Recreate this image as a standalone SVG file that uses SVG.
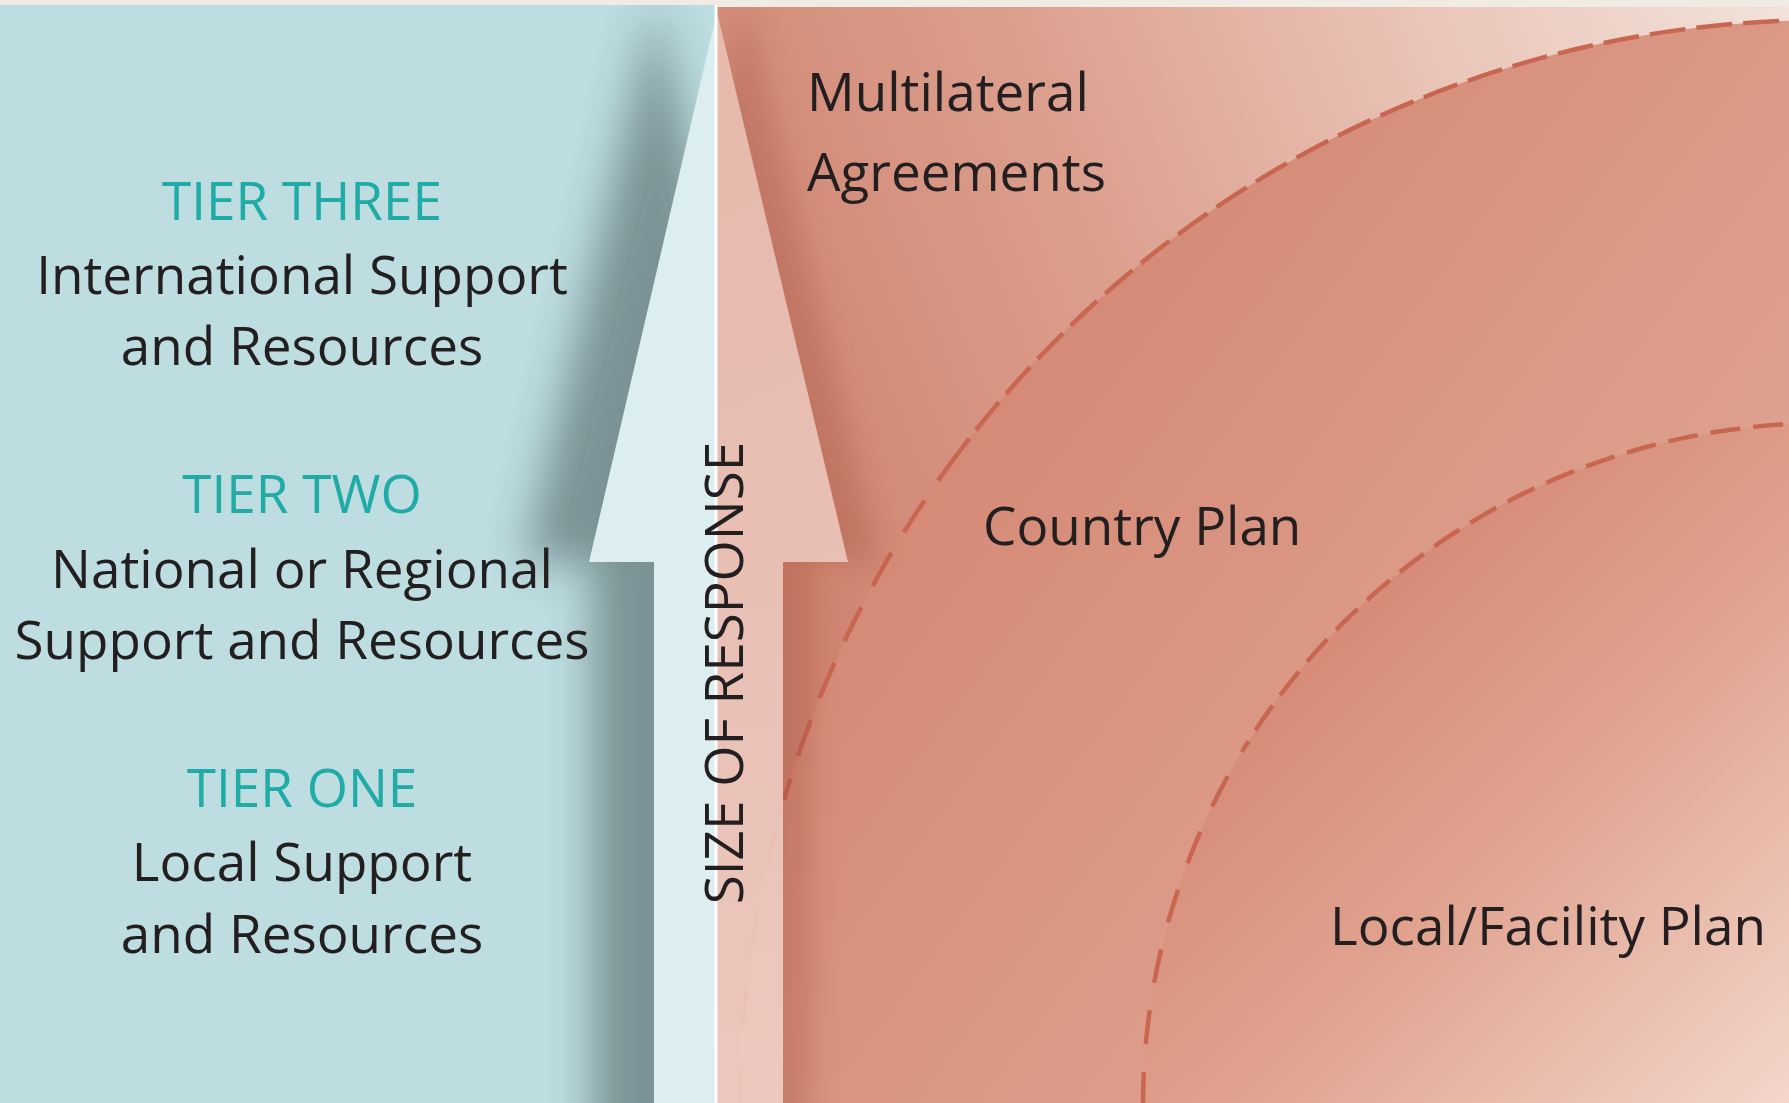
<svg xmlns="http://www.w3.org/2000/svg" width="1789" height="1103" viewBox="0 0 1789 1103">
<defs>
<style>
.lbl{font-family:"Open Sans","Liberation Sans",sans-serif;font-size:53px;font-weight:500;fill:#231f20;}
.tier{font-family:"Open Sans","Liberation Sans",sans-serif;font-size:53px;font-weight:500;fill:#20aba6;}
.mid{text-anchor:middle;}
.arc{fill:none;stroke:#c8664f;stroke-width:4.5;}
.d1{stroke-dasharray:36 11;}
.d2{stroke-dasharray:38 24;}
.d3{stroke-dasharray:38 42;}
.i1{stroke-dasharray:30 13;}
.i2{stroke-dasharray:34 28;}
</style>
<clipPath id="clipL"><rect x="0" y="5" width="716" height="1098"/></clipPath>
<clipPath id="clipR"><rect x="716" y="7" width="1073" height="1096"/></clipPath>
<filter id="blurL" x="-60%" y="-20%" width="220%" height="140%"><feGaussianBlur stdDeviation="22"/></filter>
<filter id="blurR" x="-60%" y="-20%" width="220%" height="140%"><feGaussianBlur stdDeviation="14"/></filter>
<linearGradient id="gBg" gradientUnits="userSpaceOnUse" x1="740" y1="400" x2="1789" y2="0">
<stop offset="0" stop-color="#cf8470"/>
<stop offset="0.35" stop-color="#dc9f8e"/>
<stop offset="0.7" stop-color="#eac6b9"/>
<stop offset="1" stop-color="#f2e2da"/>
</linearGradient>
<linearGradient id="gOuter" gradientUnits="userSpaceOnUse" x1="850" y1="300" x2="1789" y2="1000">
<stop offset="0" stop-color="#d2846f"/>
<stop offset="1" stop-color="#e3ad9c"/>
</linearGradient>
<linearGradient id="gInner" gradientUnits="userSpaceOnUse" x1="1250" y1="560" x2="1789" y2="1103">
<stop offset="0" stop-color="#d2826d"/>
<stop offset="0.5" stop-color="#e0a390"/>
<stop offset="1" stop-color="#f3d6ca"/>
</linearGradient>
<linearGradient id="gArrowR" gradientUnits="userSpaceOnUse" x1="0" y1="0" x2="0" y2="1103">
<stop offset="0" stop-color="#ecc2b7"/>
<stop offset="1" stop-color="#f3d5cc"/>
</linearGradient>
<path id="arrowShape" d="M717 12 L848 562 L783 562 L783 1103 L654 1103 L654 562 L589 562 Z"/>
<path id="shadowShape" d="M717 0 L851 562 L783 562 L783 1260 L654 1260 L654 562 L586 562 Z"/>
</defs>

<rect x="0" y="0" width="1789" height="1103" fill="#f0ece4"/>

<g id="left-panel">
<rect x="0" y="5" width="716" height="1098" fill="#bddde0"/>
<g clip-path="url(#clipL)">
<use href="#shadowShape" transform="translate(-62,0)" fill="#2f3d41" opacity="0.46" filter="url(#blurL)"/>
<use href="#arrowShape" fill="#ddeef1"/>
</g>
</g>

<g id="right-panel">
<g clip-path="url(#clipR)">
<rect x="716" y="7" width="1073" height="1096" fill="url(#gBg)"/>
<circle id="country-plan-area" cx="1826" cy="1106" r="1086" fill="url(#gOuter)"/>
<circle id="local-plan-area" cx="1826" cy="1106" r="683" fill="url(#gInner)"/>
<path class="arc d1" d="M1826 20 A1086 1086 0 0 0 960.5 450"/>
<path class="arc d2" d="M960.5 450 A1086 1086 0 0 0 784 800"/>
<path class="arc d3" d="M740 1106 A1086 1086 0 0 1 784 800"/>
<path class="arc i1" d="M1826 423 A683 683 0 0 0 1243 750"/>
<path class="arc i2" d="M1143 1106 A683 683 0 0 1 1243 750"/>
<use href="#shadowShape" transform="translate(28,0)" fill="#8a3422" opacity="0.22" filter="url(#blurR)"/>
<use href="#arrowShape" fill="url(#gArrowR)" opacity="0.86"/>
</g>
</g>

<g id="connectors">
<rect x="714.5" y="5" width="3" height="1098" fill="#ffffff"/>
</g>

<g id="size-of-response">
<text class="lbl mid" transform="translate(743,673) rotate(-90)">SIZE OF RESPONSE</text>
</g>

<g id="tier-three">
<text class="tier mid" x="302" y="220">TIER THREE</text>
<text class="lbl mid" x="302" y="294">International Support</text>
<text class="lbl mid" x="302" y="365">and Resources</text>
</g>
<g id="tier-two">
<text class="tier mid" x="302" y="513">TIER TWO</text>
<text class="lbl mid" x="302" y="588">National or Regional</text>
<text class="lbl mid" x="302" y="659">Support and Resources</text>
</g>
<g id="tier-one">
<text class="tier mid" x="302" y="807">TIER ONE</text>
<text class="lbl mid" x="302" y="881">Local Support</text>
<text class="lbl mid" x="302" y="953">and Resources</text>
</g>

<g id="multilateral-agreements">
<text class="lbl" x="807" y="111">Multilateral</text>
<text class="lbl" x="807" y="191">Agreements</text>
</g>
<g id="country-plan">
<text class="lbl" x="983" y="545">Country Plan</text>
</g>
<g id="local-facility-plan">
<text class="lbl" x="1330" y="945">Local/Facility Plan</text>
</g>
</svg>
